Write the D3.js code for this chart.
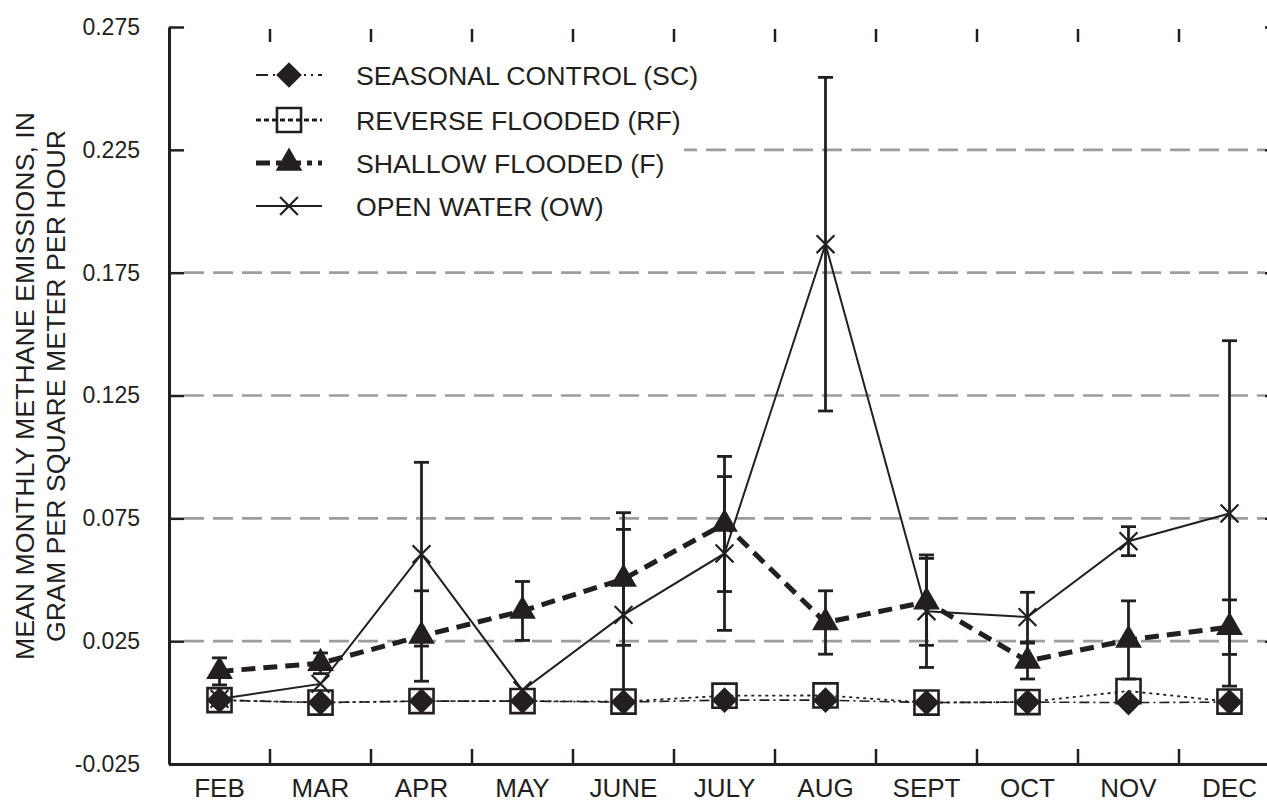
<!DOCTYPE html>
<html>
<head>
<meta charset="utf-8">
<script src="https://cdn.jsdelivr.net/npm/d3@7"></script>
<style>
  html, body { margin: 0; padding: 0; background: #fff; }
  svg { display: block; }
  text { font-family: "Liberation Sans", Arial, Helvetica, sans-serif; fill: #231f20; }
</style>
</head>
<body>
<svg id="chart" width="1267" height="802"></svg>
<script>
// ---- data ----
const months = ["FEB", "MAR", "APR", "MAY", "JUNE", "JULY", "AUG", "SEPT", "OCT", "NOV", "DEC"];
const yTicks = [-0.025, 0.025, 0.075, 0.125, 0.175, 0.225, 0.275];
const scValues = [0.001, 0.0, 0.0006, 0.0006, 0.0002, 0.001, 0.001, 0.0, 0.0002, 0.0, 0.0002];
const rfValues = [0.001, 0.0, 0.0006, 0.0006, 0.0004, 0.0028, 0.0029, 0.0, 0.0002, 0.0047, 0.0004];
const fValues  = [0.0127, 0.0160, 0.0271, 0.0373, 0.0503, 0.0727, 0.0326, 0.0410, 0.0169, 0.0255, 0.0307];
const fErr     = [0.0055, 0.0042, 0.0184, 0.0120, 0.0270, 0.0275, 0.0129, 0.0177, 0.0073, 0.0159, 0.0111];
const owValues = [0.0015, 0.0076, 0.0604, 0.0050, 0.0357, 0.0607, 0.1866, 0.0372, 0.0348, 0.0657, 0.0770];
const owErr    = [0.0, 0.0, 0.0374, 0.0, 0.0348, 0.0313, 0.0679, 0.0229, 0.0101, 0.0059, 0.0703];
const legendLabels = ["SEASONAL CONTROL (SC)", "REVERSE FLOODED (RF)", "SHALLOW FLOODED (F)", "OPEN WATER (OW)"];
const yTitle = ["MEAN MONTHLY METHANE EMISSIONS, IN", "GRAM PER SQUARE METER PER HOUR"];

// ---- layout ----
const pLeft = 169, pRight = 1280, pTop = 27, pBottom = 764;
const ink = "#231f20";
const svg = d3.select("#chart");

const x = d3.scaleBand().domain(months).range([pLeft, pRight]).padding(0);
const y = d3.scaleLinear().domain([-0.025, 0.275]).range([pBottom, pTop]);
const cx = m => x(m) + x.bandwidth() / 2;

// ---- gridlines ----
svg.append("g").selectAll("line")
  .data(yTicks.filter(v => v > -0.025 && v < 0.275))
  .join("line")
  .attr("x1", pLeft + 15).attr("x2", pRight - 15)
  .attr("y1", d => y(d)).attr("y2", d => y(d))
  .attr("stroke", "#9d9d9d").attr("stroke-width", 2.6)
  .attr("stroke-dasharray", "20,9");

// legend background (hides the gridline behind the legend)
svg.append("rect").attr("x", pLeft + 15).attr("y", 50).attr("width", 500).attr("height", 178).attr("fill", "#fff");

// ---- axes ----
const fmt = d => d.toFixed(3);
const gL = svg.append("g").attr("transform", `translate(${pLeft},0)`)
  .call(d3.axisLeft(y).tickValues(yTicks).tickSizeInner(-15).tickSizeOuter(0).tickPadding(29).tickFormat(fmt));
gL.select(".domain").attr("stroke", ink).attr("stroke-width", 3);
gL.selectAll(".tick line").attr("stroke", ink).attr("stroke-width", 2.5);
gL.selectAll(".tick text").attr("font-size", 23).attr("fill", ink)
  .style("font-family", "'Liberation Sans', Arial, sans-serif");

const gR = svg.append("g").attr("transform", `translate(${pRight},0)`)
  .call(d3.axisRight(y).tickValues(yTicks).tickSizeInner(-15).tickSizeOuter(0).tickFormat(""));
gR.select(".domain").attr("stroke", ink).attr("stroke-width", 3);
gR.selectAll(".tick line").attr("stroke", ink).attr("stroke-width", 2.5);

const gB = svg.append("g").attr("transform", `translate(0,${pBottom})`)
  .call(d3.axisBottom(x).tickSize(0).tickPadding(15));
gB.select(".domain").attr("stroke", ink).attr("stroke-width", 3);
gB.selectAll(".tick text").attr("font-size", 26).attr("fill", ink).attr("dy", "0.71em")
  .style("font-family", "'Liberation Sans', Arial, sans-serif");

// category boundary ticks (inward) on bottom and top
const bounds = months.slice(1).map(m => x(m));
svg.append("g").selectAll("line").data(bounds).join("line")
  .attr("x1", d => d).attr("x2", d => d).attr("y1", pBottom).attr("y2", pBottom - 15)
  .attr("stroke", ink).attr("stroke-width", 2.5);
svg.append("g").selectAll("line").data(bounds).join("line")
  .attr("x1", d => d).attr("x2", d => d).attr("y1", pTop + 2).attr("y2", pTop + 15)
  .attr("stroke", ink).attr("stroke-width", 2.5);

// ---- y title ----
const titleG = svg.append("g");
[[25, yTitle[0], 548], [56, yTitle[1], 512]].forEach(([tx, t, len]) => {
  titleG.append("text")
    .attr("transform", `translate(${tx},${386}) rotate(-90)`)
    .attr("text-anchor", "middle").attr("dy", "0.36em")
    .attr("font-size", 25)
    .attr("textLength", len).attr("lengthAdjust", "spacingAndGlyphs")
    .style("font-family", "'Liberation Sans Narrow', 'Liberation Sans', Arial, sans-serif")
    .text(t);
});

// ---- series styles ----
const series = [
  { name: "sc", values: scValues, err: null, dash: "10,4,2,4", width: 1.6, symbol: "diamond" },
  { name: "rf", values: rfValues, err: null, dash: "3,4", width: 1.8, symbol: "square" },
  { name: "f",  values: fValues,  err: fErr,  dash: "14,8", width: 5, symbol: "triangle" },
  { name: "ow", values: owValues, err: owErr, dash: null, width: 2, symbol: "x" }
];
const legendDash = ["12,5,2,5,2,5", "5,3", "14,6,5,6", null];
const legendWidth = [2, 3, 5, 2];

const line = d3.line().x((d, i) => cx(months[i])).y(d => y(d));

function drawSymbol(sel, kind) {
  if (kind === "diamond") {
    sel.attr("d", d3.symbol(d3.symbolSquare, 330)()).attr("fill", ink).attr("stroke", "none")
      .attr("transform", function () { return d3.select(this).attr("transform") + " rotate(45)"; });
  } else if (kind === "square") {
    sel.attr("d", d3.symbol(d3.symbolSquare, 580)()).attr("fill", "none").attr("stroke", ink).attr("stroke-width", 2.6);
  } else if (kind === "triangle") {
    sel.attr("d", d3.symbol(d3.symbolTriangle, 310)()).attr("fill", ink).attr("stroke", "none");
  } else {
    sel.attr("d", d3.symbol(d3.symbolX, 210)()).attr("fill", "none").attr("stroke", ink).attr("stroke-width", 2.2);
  }
}

// lines
["ow", "sc", "rf", "f"].forEach(n => {
  const s = series.find(d => d.name === n);
  svg.append("path").datum(s.values).attr("d", line)
    .attr("fill", "none").attr("stroke", ink).attr("stroke-width", s.width)
    .attr("stroke-dasharray", s.dash);
});

// error bars
series.filter(s => s.err).forEach(s => {
  const g = svg.append("g");
  s.values.forEach((v, i) => {
    const e = s.err[i];
    if (!e) return;
    const px = cx(months[i]);
    const y1 = y(v + e), y2 = y(v - e);
    g.append("line").attr("x1", px).attr("x2", px).attr("y1", y1).attr("y2", y2)
      .attr("stroke", ink).attr("stroke-width", 2.8);
    [y1, y2].forEach(yy => g.append("line").attr("x1", px - 7.5).attr("x2", px + 7.5)
      .attr("y1", yy).attr("y2", yy).attr("stroke", ink).attr("stroke-width", 2.8));
  });
});

// markers
["ow", "f", "rf", "sc"].forEach(n => {
  const s = series.find(d => d.name === n);
  svg.append("g").selectAll("path").data(s.values).join("path")
    .attr("transform", (d, i) => `translate(${cx(months[i])},${y(d)})`)
    .each(function () { drawSymbol(d3.select(this), s.symbol); });
});

// ---- legend ----
const legRows = [75, 120, 163, 206];
const legendG = svg.append("g");
series.forEach((s, i) => {
  const ly = legRows[i];
  legendG.append("line").attr("x1", 256).attr("x2", 322).attr("y1", ly).attr("y2", ly)
    .attr("stroke", ink).attr("stroke-width", legendWidth[i]).attr("stroke-dasharray", legendDash[i]);
  const p = legendG.append("path").attr("transform", `translate(289,${ly})`);
  drawSymbol(p, s.symbol);
  legendG.append("text").attr("x", 356).attr("y", ly).attr("dy", "0.36em")
    .attr("font-size", 26.7).text(legendLabels[i]);
});
</script>
</body>
</html>
